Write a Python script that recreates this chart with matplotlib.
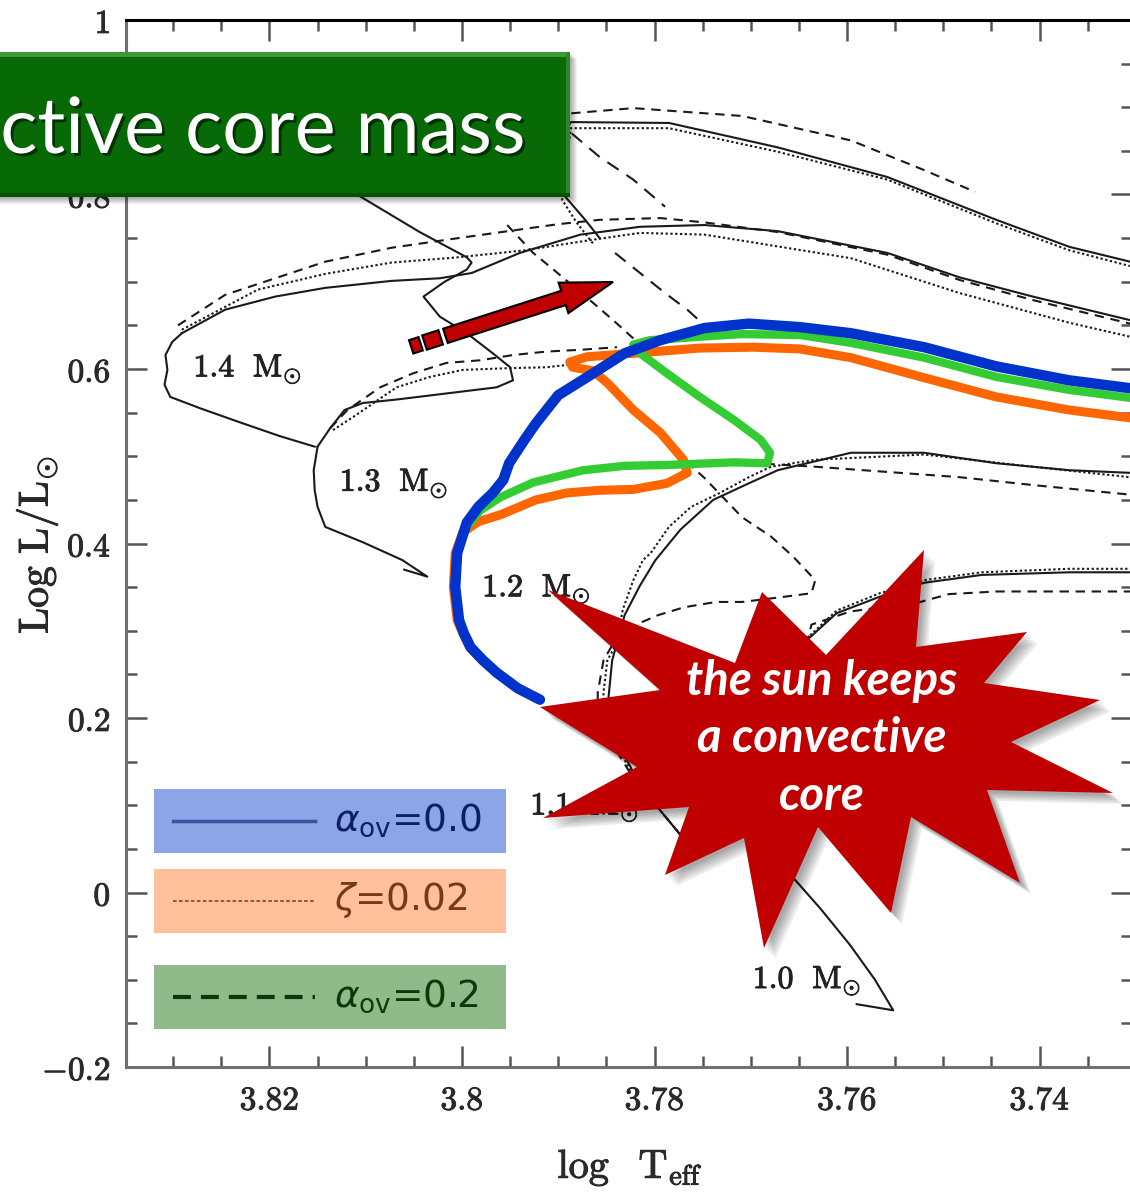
import numpy as np
import matplotlib
matplotlib.use("Agg")
import matplotlib.pyplot as plt
import matplotlib.patheffects as pe
from matplotlib.patches import Polygon, Rectangle
from matplotlib.ticker import MultipleLocator, FuncFormatter

plt.rcParams['mathtext.fontset'] = 'cm'

# ---- black tracks: log Teff, log L/Lsun ----
# 1.4 Msun, common stretch and the three branches
m14_base_T = [3.8153, 3.8189, 3.8231, 3.8272, 3.8303, 3.8309, 3.8306, 3.8308, 3.8301, 3.8291]
m14_base_L = [0.511, 0.523, 0.539, 0.555, 0.568, 0.582, 0.599, 0.616, 0.631, 0.641]
m14_solid_T = [3.8291, 3.8246, 3.8194, 3.8142, 3.8073, 3.8023, 3.7990, 3.7940, 3.7877, 3.7815,
               3.7748, 3.7672, 3.7558, 3.7483, 3.7407, 3.7306]
m14_solid_L = [0.641, 0.668, 0.683, 0.693, 0.701, 0.704, 0.710, 0.733, 0.754, 0.763,
               0.765, 0.758, 0.733, 0.705, 0.683, 0.656]
m14_dot_T = [3.8291, 3.8212, 3.8142, 3.8073, 3.8004, 3.7935, 3.7865, 3.7815, 3.7748, 3.7596,
             3.7483, 3.7369, 3.7306]
m14_dot_L = [0.645, 0.691, 0.709, 0.722, 0.728, 0.736, 0.748, 0.756, 0.754, 0.727,
             0.687, 0.653, 0.637]
m14_dash_T = [3.8295, 3.8246, 3.8194, 3.8142, 3.8073, 3.8004, 3.7952, 3.7900, 3.7857, 3.7794,
              3.7748, 3.7672, 3.7558, 3.7483, 3.7407, 3.7306]
m14_dash_L = [0.650, 0.685, 0.704, 0.723, 0.739, 0.750, 0.758, 0.766, 0.771, 0.773,
              0.768, 0.757, 0.731, 0.702, 0.679, 0.652]

# upper bundle after the hook
top_solid_T = [3.7857, 3.7872, 3.7890, 3.7903, 3.7898, 3.7887, 3.7785, 3.7672, 3.7558, 3.7445, 3.7369, 3.7306]
top_solid_L = [0.750, 0.771, 0.794, 0.811, 0.862, 0.883, 0.882, 0.854, 0.820, 0.771, 0.740, 0.723]
top_dot_T = [3.7864, 3.7881, 3.7896, 3.7887, 3.7785, 3.7672, 3.7558, 3.7445, 3.7369, 3.7306]
top_dot_L = [0.744, 0.768, 0.794, 0.876, 0.876, 0.849, 0.817, 0.767, 0.736, 0.718]
top_dash_T = [3.7919, 3.7887, 3.7822, 3.7709, 3.7596, 3.7520, 3.7467]
top_dash_L = [0.885, 0.893, 0.899, 0.890, 0.862, 0.828, 0.803]

# overshoot hooks
hook1_T = [3.7886, 3.7857, 3.7822, 3.7789]
hook1_L = [0.870, 0.843, 0.817, 0.786]
hook2_T = [3.7841, 3.7815, 3.7789, 3.7766, 3.7748]
hook2_L = [0.733, 0.710, 0.687, 0.668, 0.650]
hook3_T = [3.7953, 3.7926, 3.7905, 3.7864, 3.7843, 3.7820]
hook3_L = [0.765, 0.733, 0.714, 0.676, 0.656, 0.633]

# 1.3 Msun
m13_ms_T = [3.8060, 3.8036, 3.8062, 3.8102, 3.8142, 3.8150, 3.8153, 3.8154, 3.8150]
m13_ms_L = [0.370, 0.362, 0.381, 0.401, 0.419, 0.442, 0.461, 0.484, 0.511]
m13_solid_T = [3.8150, 3.8137, 3.8122, 3.8103, 3.8068, 3.8016, 3.7964, 3.7947, 3.7950, 3.7968,
               3.7995, 3.8023, 3.8040, 3.8018, 3.7995, 3.7990, 3.7995, 3.8044, 3.8103, 3.8148]
m13_solid_L = [0.511, 0.532, 0.553, 0.561, 0.565, 0.572, 0.579, 0.587, 0.602, 0.618,
               0.641, 0.660, 0.683, 0.700, 0.714, 0.722, 0.728, 0.757, 0.796, 0.826]
m13_dash_T = [3.8137, 3.8119, 3.8085, 3.8051, 3.8016, 3.7981, 3.7947, 3.7912, 3.7877, 3.7839]
m13_dash_L = [0.532, 0.553, 0.579, 0.595, 0.607, 0.610, 0.616, 0.620, 0.622, 0.625]
m13_dot_T = [3.8134, 3.8113, 3.8068, 3.8033, 3.7999, 3.7950, 3.7912, 3.7888]
m13_dot_L = [0.530, 0.545, 0.579, 0.591, 0.599, 0.601, 0.602, 0.605]

# 1.1 Msun
m11_solid_T = [3.7773, 3.7797, 3.7823, 3.7843, 3.7848, 3.7844, 3.7831, 3.7815, 3.7799, 3.7773,
               3.7739, 3.7702, 3.7672, 3.7596, 3.7520, 3.7445, 3.7369, 3.7306]
m11_solid_L = [0.066, 0.098, 0.140, 0.181, 0.221, 0.266, 0.318, 0.352, 0.381, 0.416,
               0.450, 0.469, 0.484, 0.504, 0.504, 0.492, 0.484, 0.481]
m11_dot_T = [3.7773, 3.7797, 3.7825, 3.7846, 3.7853, 3.7853, 3.7849, 3.7839, 3.7833, 3.7822,
             3.7812, 3.7804, 3.7785, 3.7762, 3.7732, 3.7702, 3.7679, 3.7633, 3.7520, 3.7407, 3.7306]
m11_dot_L = [0.066, 0.098, 0.140, 0.181, 0.209, 0.229, 0.266, 0.286, 0.324, 0.358,
             0.381, 0.389, 0.419, 0.442, 0.458, 0.476, 0.488, 0.496, 0.502, 0.488, 0.476]
m11_dash_T = [3.7773, 3.7797, 3.7827, 3.7850, 3.7859, 3.7859, 3.7853, 3.7841, 3.7815, 3.7796,
              3.7769, 3.7736, 3.7709, 3.7672, 3.7637, 3.7633, 3.7656, 3.7679, 3.7709, 3.7748,
              3.7763, 3.7711, 3.7633, 3.7558, 3.7483, 3.7407, 3.7306]
m11_dash_L = [0.066, 0.098, 0.140, 0.181, 0.209, 0.229, 0.266, 0.289, 0.309, 0.318,
              0.327, 0.333, 0.333, 0.338, 0.343, 0.358, 0.385, 0.408, 0.430, 0.475,
              0.490, 0.493, 0.488, 0.482, 0.476, 0.467, 0.456]

# 1.0 Msun
m10_solid_T = [3.7590, 3.7552, 3.7571, 3.7597, 3.7628, 3.7656, 3.7685, 3.7706, 3.7713, 3.7701,
               3.7675, 3.7642, 3.7611, 3.7566, 3.7520, 3.7460, 3.7369, 3.7306]
m10_solid_L = [-0.128, -0.135, -0.100, -0.060, -0.018, 0.017, 0.054, 0.100, 0.152, 0.203,
               0.249, 0.289, 0.320, 0.339, 0.355, 0.364, 0.367, 0.367]
m10_dot_T = [3.7642, 3.7611, 3.7566, 3.7520, 3.7460, 3.7369, 3.7306]
m10_dot_L = [0.291, 0.323, 0.343, 0.358, 0.367, 0.371, 0.371]
m10_dash_T = [3.7642, 3.7637, 3.7597, 3.7524, 3.7494, 3.7445, 3.7369, 3.7306]
m10_dash_L = [0.284, 0.307, 0.322, 0.333, 0.342, 0.345, 0.345, 0.345]

mass_labels = ['1.4', '1.3', '1.2', '1.1', '1.0']
label_T = [3.8279, 3.8127, 3.7979, 3.7929, 3.7698]
label_L = [0.599, 0.468, 0.347, 0.097, -0.102]

# ---- highlighted 1.2 Msun tracks ----
orange_T = [3.7919, 3.7942, 3.7964, 3.7979, 3.7992, 3.7999, 3.8005, 3.8009, 3.8007, 3.7999,
            3.7983, 3.7960, 3.7923, 3.7891, 3.7857, 3.7822, 3.7787, 3.7766, 3.7770, 3.7794,
            3.7822, 3.7849, 3.7864, 3.7885, 3.7888, 3.7870, 3.7822, 3.7753, 3.7698, 3.7649,
            3.7596, 3.7520, 3.7445, 3.7369, 3.7306]
orange_L = [0.221, 0.234, 0.252, 0.266, 0.281, 0.297, 0.312, 0.350, 0.389, 0.413,
            0.425, 0.433, 0.450, 0.458, 0.461, 0.462, 0.469, 0.481, 0.496, 0.527,
            0.553, 0.584, 0.598, 0.602, 0.608, 0.614, 0.618, 0.624, 0.625, 0.623,
            0.613, 0.590, 0.568, 0.553, 0.544]
green_T = [3.7919, 3.7942, 3.7964, 3.7978, 3.7991, 3.7998, 3.8003, 3.8007, 3.8005, 3.7997,
           3.7981, 3.7960, 3.7926, 3.7874, 3.7831, 3.7787, 3.7718, 3.7683, 3.7680, 3.7690,
           3.7718, 3.7753, 3.7787, 3.7815, 3.7822, 3.7805, 3.7753, 3.7709, 3.7649, 3.7596,
           3.7520, 3.7445, 3.7369, 3.7306]
green_L = [0.221, 0.234, 0.252, 0.266, 0.281, 0.297, 0.312, 0.350, 0.389, 0.416,
           0.438, 0.453, 0.470, 0.484, 0.489, 0.490, 0.493, 0.492, 0.504, 0.519,
           0.542, 0.568, 0.595, 0.618, 0.628, 0.633, 0.637, 0.640, 0.639, 0.630,
           0.613, 0.591, 0.576, 0.567]
blue_T = [3.7919, 3.7942, 3.7964, 3.7978, 3.7991, 3.7998, 3.8003, 3.8007, 3.8005, 3.7995,
          3.7983, 3.7968, 3.7957, 3.7951, 3.7935, 3.7923, 3.7900, 3.7871, 3.7831, 3.7794,
          3.7748, 3.7702, 3.7649, 3.7596, 3.7520, 3.7445, 3.7369, 3.7306]
blue_L = [0.221, 0.234, 0.252, 0.266, 0.281, 0.297, 0.312, 0.350, 0.389, 0.424,
          0.442, 0.458, 0.473, 0.492, 0.519, 0.538, 0.570, 0.590, 0.618, 0.633,
          0.647, 0.652, 0.648, 0.641, 0.625, 0.603, 0.587, 0.578]

legend_labels = [r'$\alpha_{\mathrm{ov}}$=0.0', r'$\zeta$=0.02', r'$\alpha_{\mathrm{ov}}$=0.2']

fig = plt.figure(figsize=(11.30, 11.92), dpi=100)
ax = fig.add_axes([126 / 1130, 1 - 1067 / 1192, 1006 / 1130, 1047 / 1192])
ax.set_xlim(3.8349, 3.7304)
ax.set_ylim(-0.2, 1.0)

ink = '#1a1a1a'
solid = dict(color=ink, lw=1.5, ls='-', zorder=2)
dotted = dict(color=ink, lw=1.5, ls=(0, (1.1, 1.2)), zorder=2)
dashed = dict(color=ink, lw=1.5, ls=(0, (4.5, 3.2)), zorder=2)
longdash = dict(color=ink, lw=1.5, ls=(0, (6.5, 4.5)), zorder=2)

ax.plot(m14_base_T, m14_base_L, **solid)
ax.plot(m14_solid_T, m14_solid_L, **solid)
ax.plot(m14_dot_T, m14_dot_L, **dotted)
ax.plot(m14_dash_T, m14_dash_L, **dashed)
ax.plot(top_solid_T, top_solid_L, **solid)
ax.plot(top_dot_T, top_dot_L, **dotted)
ax.plot(top_dash_T, top_dash_L, **dashed)
ax.plot(hook1_T, hook1_L, **longdash)
ax.plot(hook2_T, hook2_L, **longdash)
ax.plot(hook3_T, hook3_L, **dashed)
ax.plot(m13_ms_T, m13_ms_L, **solid)
ax.plot(m13_solid_T, m13_solid_L, **solid)
ax.plot(m13_dash_T, m13_dash_L, **dashed)
ax.plot(m13_dot_T, m13_dot_L, **dotted)
ax.plot(m11_solid_T, m11_solid_L, **solid)
ax.plot(m11_dot_T, m11_dot_L, **dotted)
ax.plot(m11_dash_T, m11_dash_L, **dashed)
ax.plot(m10_solid_T, m10_solid_L, **solid)
ax.plot(m10_dot_T, m10_dot_L, **dotted)
ax.plot(m10_dash_T, m10_dash_L, **dashed)

thicken = [pe.withStroke(linewidth=0.7, foreground='#222222')]
for m, t, l in zip(mass_labels, label_T, label_L):
    ax.text(t, l, r'$\mathrm{%s\ \ M}_{\odot}$' % m, fontsize=23, color='#222222',
            ha='left', va='center', zorder=3, path_effects=thicken)

thick = dict(solid_capstyle='round', solid_joinstyle='round')
ax.plot(orange_T, orange_L, color='#ff6600', lw=6.5, zorder=4, **thick)
ax.plot(green_T, green_L, color='#33cc33', lw=6, zorder=5, **thick)
ax.plot(blue_T, blue_L, color='#0033cc', lw=7.5, zorder=6, **thick)

# axes frame
ax.xaxis.set_major_locator(MultipleLocator(0.02))
ax.xaxis.set_minor_locator(MultipleLocator(0.005))
ax.yaxis.set_major_locator(MultipleLocator(0.2))
ax.yaxis.set_minor_locator(MultipleLocator(0.05))
fmt = FuncFormatter(lambda v, p: '$%s$' % format(round(v, 3), 'g'))
ax.xaxis.set_major_formatter(fmt)
ax.yaxis.set_major_formatter(fmt)
ax.tick_params(which='both', direction='in', top=True, right=True, color='#555555',
               width=1.8, labelsize=24, labelcolor='#2a2a2a')
ax.tick_params(which='major', length=15)
ax.tick_params(which='minor', length=8)
ax.tick_params(axis='x', pad=12)
ax.tick_params(axis='y', pad=11)
for lbl in ax.get_xticklabels() + ax.get_yticklabels():
    lbl.set_path_effects([pe.withStroke(linewidth=0.7, foreground='#2a2a2a')])
for side in ['left', 'bottom']:
    ax.spines[side].set_color('#707070')
    ax.spines[side].set_linewidth(2.2)
ax.spines['top'].set_color('black')
ax.spines['top'].set_linewidth(2.2)

fig.text(37 / 1130, 1 - 545 / 1192, r'$\mathrm{Log\ L/L_{\odot}}$', rotation=90,
         ha='center', va='center', fontsize=30, color='#2a2a2a', path_effects=thicken)
fig.text(630 / 1130, 1 - 1168 / 1192, r'$\log\ \ \mathrm{T}_{\mathrm{eff}}$',
         ha='center', va='center', fontsize=29, color='#2a2a2a', path_effects=thicken)

# ---- slide decorations, pixel coordinates ----
ov = fig.add_axes([0, 0, 1, 1], zorder=5)
ov.set_xlim(0, 1130)
ov.set_ylim(1192, 0)
ov.axis('off')

# title banner
for k in range(1, 8):
    ov.add_patch(Rectangle((-20, 52 + k), 590 + k, 145, color='black', alpha=0.05, lw=0))
ov.add_patch(Rectangle((-20, 52), 590, 145, color='#076a07', lw=0))
ov.add_patch(Rectangle((-20, 52), 590, 5, color='#3a9a3a', lw=0))
ov.add_patch(Rectangle((566, 52), 4, 145, color='#2b862b', lw=0))
ov.add_patch(Rectangle((-20, 193), 590, 4, color='#045204', lw=0))
ov.text(525, 153, 'ctive core mass', ha='right', va='baseline', fontsize=56,
        family='Lato', color='white',
        path_effects=[pe.withSimplePatchShadow(offset=(2, -2), shadow_rgbFace='#001a00', alpha=0.7)])

# arrow with broken tail
tip = np.array([613.0, 282.0])
u = np.array([193.0, -62.0])
u /= np.hypot(*u)
nrm = np.array([-u[1], u[0]])


def pt(t, s):
    return tip - t * u + s * nrm


arrow_body = [pt(0, 0), pt(52, 16), pt(52, 7.5), pt(176, 7.5), pt(176, -7.5), pt(52, -7.5), pt(52, -16)]
for poly in [arrow_body,
             [pt(181, 7.5), pt(198, 7.5), pt(198, -7.5), pt(181, -7.5)],
             [pt(202, 7.0), pt(212, 7.0), pt(212, -7.0), pt(202, -7.0)]]:
    ov.add_patch(Polygon(poly, closed=True, facecolor='#c00000', edgecolor='black',
                         lw=1.5, joinstyle='miter'))

# starburst
star_x = [540, 660, 548, 735, 762, 826, 924, 916, 1027, 984, 1100, 1011, 1113, 987, 1020, 911,
          891, 818, 764, 744, 665, 689, 543, 637]
star_y = [707, 690, 590, 663, 592, 655, 550, 647, 632, 683, 700, 742, 793, 790, 883, 817,
          913, 827, 948, 838, 875, 807, 818, 767]
sx = np.array(star_x, float)
sy = np.array(star_y, float)
for off in [3, 5, 7, 9, 11]:
    ov.add_patch(Polygon(np.c_[sx + off, sy + off], closed=True, color='black', alpha=0.08, lw=0))
ov.add_patch(Polygon(np.c_[sx, sy], closed=True, color='#c00000', lw=0))
for txt, yb in [('the sun keeps', 695), ('a convective', 752), ('core', 810)]:
    ov.text(822, yb, txt, ha='center', va='baseline', fontsize=34, family='Lato',
            weight='bold', style='italic', color='white')

# legend panels
panels = [('#8ca5e6', '#3552a3', '-', 2.5, '#0a1f66'),
          ('#ffc09b', '#9a4a1a', (0, (2.0, 1.3)), 1.3, '#7a3814'),
          ('#8fbb8b', '#0a3a0a', (0, (4.3, 2.4)), 3.0, '#0a3a0a')]
for (face, lc, lstyle, lwid, tc), top, lab in zip(panels, [789, 869, 965], legend_labels):
    ov.add_patch(Rectangle((154, top), 352, 64, color=face, lw=0))
    ov.plot([173, 315], [top + 32, top + 32], color=lc, ls=lstyle, lw=lwid)
    ov.text(334, top + 31, lab, ha='left', va='center', fontsize=27, color=tc,
            family='DejaVu Sans', math_fontfamily='dejavusans')

fig.savefig('out.png', dpi=100)
